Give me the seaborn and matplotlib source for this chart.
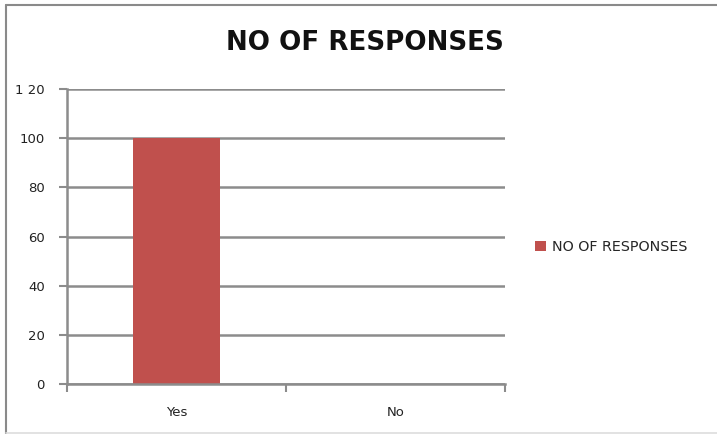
import matplotlib
matplotlib.use("Agg")
import matplotlib.pyplot as plt
import seaborn as sns
import pandas as pd
from matplotlib.lines import Line2D

categories = ["Yes", "No"]
responses = [100, 0]
series_name = "NO OF RESPONSES"
y_ticks = [0, 20, 40, 60, 80, 100, 120]
y_labels = ["0", "20", "40", "60", "80", "100", "1 20"]

sns.set_theme(style="white")
plt.rcParams['font.family'] = ['DejaVu Sans']

df = pd.DataFrame({"cat": categories, "val": responses, "series": series_name})

W, H = 717, 434
fig = plt.figure(figsize=(W/100, H/100), dpi=100)
ax = fig.add_axes([67/W, 1-384/H, (505-67)/W, (384-89)/H])

sns.barplot(data=df, x="cat", y="val", hue="series", palette=["#C0504D"],
            width=0.4, ax=ax, saturation=1, legend=True, linewidth=0)

gray = "#8C8C8C"
ax.set_ylim(0, 120)
ax.set_xlim(-0.5, 1.5)
ax.set_yticks(y_ticks)
ax.set_yticklabels(y_labels, fontsize=9.5, color="#222222")
ax.yaxis.grid(True, color=gray, linewidth=1.8)
ax.set_axisbelow(True)
ax.set_xticks([0, 1])
ax.set_xticklabels(categories, fontsize=9.5, color="#222222")
ax.set_xticks([-0.5, 0.5, 1.5], minor=True)
ax.tick_params(axis="x", which="major", length=0, pad=16)
ax.tick_params(axis="x", which="minor", length=6, width=1.5, color=gray, direction="out", bottom=True)
ax.tick_params(axis="y", length=6, width=1.5, color=gray, direction="out", left=True, pad=10)
ax.set_xlabel("")
ax.set_ylabel("")
for s in ["top", "right"]:
    ax.spines[s].set_visible(False)
for s in ["left", "bottom"]:
    ax.spines[s].set_color(gray)
    ax.spines[s].set_linewidth(1.8)

leg = ax.legend(loc="center left", bbox_to_anchor=(1.04, 0.465), frameon=False,
                fontsize=10.3, handlelength=0.75, handleheight=0.75, handletextpad=0.4)

fig.text(365/W, 1-42.5/H, "NO OF RESPONSES", ha="center", va="center",
         fontsize=18.8, fontweight="bold", color="#111111")

# outer chart-area border
fig.add_artist(Line2D([6/W, 1], [1-5/H, 1-5/H], transform=fig.transFigure, color="#8A8A8A", linewidth=1.5))
fig.add_artist(Line2D([6/W, 6/W], [1-5/H, 0], transform=fig.transFigure, color="#8A8A8A", linewidth=1.5))
fig.add_artist(Line2D([6/W, 1], [1.5/H, 1.5/H], transform=fig.transFigure, color="#DDDDDD", linewidth=1.2))

fig.savefig("out.png", dpi=100)
